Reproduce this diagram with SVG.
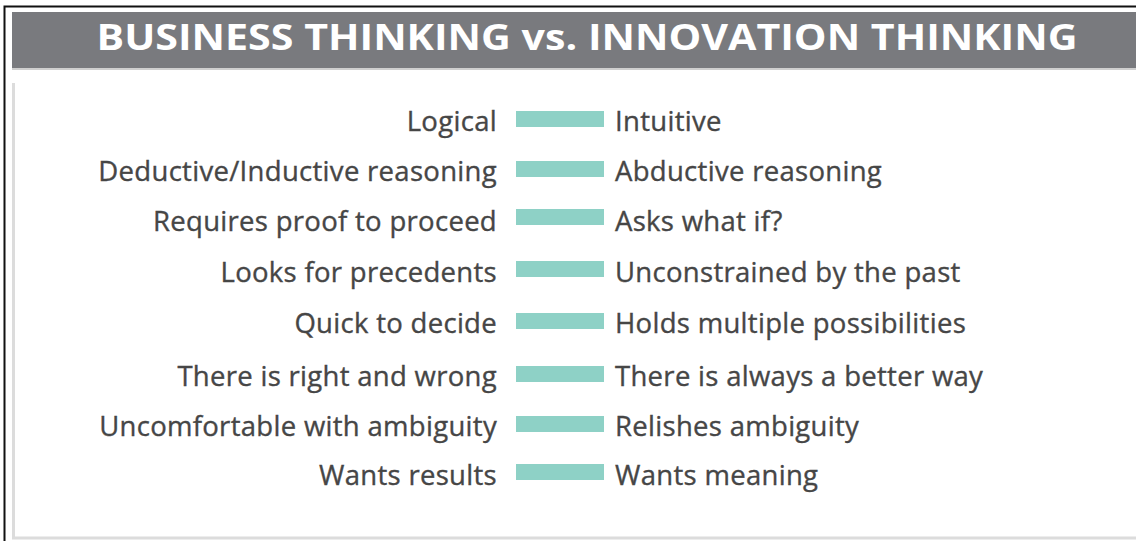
<svg xmlns="http://www.w3.org/2000/svg" width="1136" height="541" viewBox="0 0 1136 541">
<style>
.t{font-family:"Open Sans","Liberation Sans",sans-serif;font-size:27.5px;letter-spacing:0.3px;fill:#464646;stroke:#464646;stroke-width:0.35px}
.l{text-anchor:end}
.bar{fill:#8ed1c6}
.title{font-family:"Open Sans","Liberation Sans",sans-serif;font-size:35px;font-weight:bold;fill:#ffffff}
</style>
<rect x="0" y="0" width="1136" height="541" fill="#ffffff"/>
<path d="M4.5 541 V6.5 H1136" fill="none" stroke="#111111" stroke-width="2"/>
<g id="header">
<rect x="12" y="12" width="1124" height="56" fill="#797a7e"/>
<line x1="12" y1="69" x2="1136" y2="69" stroke="#cfcfcf" stroke-width="2"/>
<text class="title" x="587" y="50" text-anchor="middle" textLength="981" lengthAdjust="spacingAndGlyphs">BUSINESS THINKING vs. INNOVATION THINKING</text>
</g>
<path d="M13.5 83 V538 H1136" fill="none" stroke="#dcdcdc" stroke-width="3"/>
<g id="row1"><text class="t l" x="497" y="130.5">Logical</text><rect class="bar" x="516" y="111" width="88" height="16"/><text class="t" x="615" y="130.5">Intuitive</text></g>
<g id="row2"><text class="t l" x="497" y="180.5">Deductive/Inductive reasoning</text><rect class="bar" x="516" y="161" width="88" height="16"/><text class="t" x="615" y="180.5">Abductive reasoning</text></g>
<g id="row3"><text class="t l" x="497" y="230.5">Requires proof to proceed</text><rect class="bar" x="516" y="209" width="88" height="16"/><text class="t" x="615" y="230.5">Asks what if?</text></g>
<g id="row4"><text class="t l" x="497" y="281.5">Looks for precedents</text><rect class="bar" x="516" y="261" width="88" height="16"/><text class="t" x="615" y="281.5">Unconstrained by the past</text></g>
<g id="row5"><text class="t l" x="497" y="332.5">Quick to decide</text><rect class="bar" x="516" y="313" width="88" height="16"/><text class="t" x="615" y="332.5">Holds multiple possibilities</text></g>
<g id="row6"><text class="t l" x="497" y="385.5">There is right and wrong</text><rect class="bar" x="516" y="366" width="88" height="16"/><text class="t" x="615" y="385.5">There is always a better way</text></g>
<g id="row7"><text class="t l" x="497" y="435.5">Uncomfortable with ambiguity</text><rect class="bar" x="516" y="416" width="88" height="16"/><text class="t" x="615" y="435.5">Relishes ambiguity</text></g>
<g id="row8"><text class="t l" x="497" y="484.5">Wants results</text><rect class="bar" x="516" y="464" width="88" height="16"/><text class="t" x="615" y="484.5">Wants meaning</text></g>
<g id="connectors"></g>
</svg>
